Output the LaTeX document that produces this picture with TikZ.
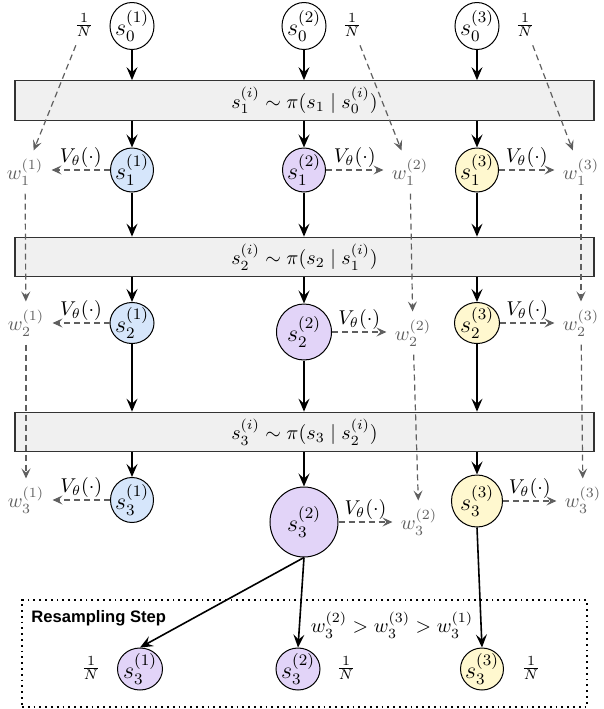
\documentclass[tikz,border=0pt]{standalone}
\usepackage{amsmath, amssymb}
\usepackage{fontspec}
\setsansfont{Liberation Sans}
\usepackage{tikz}
\usetikzlibrary{arrows.meta, positioning, shapes.geometric, calc}

\definecolor{pblue}{HTML}{D6E6FB}
\definecolor{ppurple}{HTML}{E2D4F8}
\definecolor{pyellow}{HTML}{FFF8CF}
\definecolor{boxgray}{HTML}{F0F0F0}
\definecolor{wgray}{HTML}{5F5F5F}

\begin{document}
\begin{tikzpicture}[
        x=0.5pt, y=-0.5pt,
        particle/.style={ellipse, draw=black, line width=0.5pt, inner sep=-3pt, font=\fontsize{12}{14}\selectfont},
        propbox/.style={rectangle, draw=black!80, line width=0.6pt, fill=boxgray, minimum width=289.5pt, minimum height=19.5pt},
        arrow/.style={-{Stealth[length=6.5pt, width=5.5pt, inset=2.5pt]}, line width=0.8pt},
        warrow/.style={-{Stealth[length=5pt, width=4.5pt, inset=2pt]}, dash pattern=on 3pt off 2pt, draw=wgray, line width=0.6pt},
        wlabel/.style={text=wgray, inner sep=4pt},
        nlabel/.style={inner sep=4pt},
        vlabel/.style={inner sep=1pt, above},
        group/.style={rectangle, draw, dotted, line width=0.9pt, minimum width=282.5pt, minimum height=53.5pt}
    ]
        \useasboundingbox (0,0) rectangle (604,709);

        % Initial particles
        \node[particle, minimum width=22pt, minimum height=23.5pt] (s0a) at (132,26) {$s_0^{(1)}$};
        \node[particle, minimum width=22pt, minimum height=23.5pt] (s0b) at (304,26) {$s_0^{(2)}$};
        \node[particle, minimum width=22pt, minimum height=23.5pt] (s0c) at (477,26) {$s_0^{(3)}$};
        \node[nlabel] (n0a) at (84,25) {$\frac{1}{N}$};
        \node[nlabel] (n0b) at (352,25) {$\frac{1}{N}$};
        \node[nlabel] (n0c) at (525,25) {$\frac{1}{N}$};

        % Proposal steps
        \node[propbox] (prop1) at (304.5,100.5) {$s_1^{(i)} \sim \pi(s_1 \mid s_0^{(i)})$};
        \node[propbox] (prop2) at (304.5,257) {$s_2^{(i)} \sim \pi(s_2 \mid s_1^{(i)})$};
        \node[propbox] (prop3) at (304.5,432) {$s_3^{(i)} \sim \pi(s_3 \mid s_2^{(i)})$};

        % Step 1
        \node[particle, fill=pblue, minimum width=21.5pt, minimum height=22pt] (s1a) at (132,170) {$s_1^{(1)}$};
        \node[particle, fill=ppurple, minimum width=21.5pt, minimum height=22pt] (s1b) at (304,170) {$s_1^{(2)}$};
        \node[particle, fill=pyellow, minimum width=21.5pt, minimum height=22pt] (s1c) at (477,170) {$s_1^{(3)}$};
        \node[wlabel] (w1a) at (25,172) {$w_1^{(1)}$};
        \node[wlabel] (w1b) at (410,172) {$w_1^{(2)}$};
        \node[wlabel] (w1c) at (581,172) {$w_1^{(3)}$};

        % Step 2
        \node[particle, fill=pblue, minimum width=22pt, minimum height=20.5pt] (s2a) at (132,323) {$s_2^{(1)}$};
        \node[particle, fill=ppurple, minimum width=27.5pt, minimum height=28pt] (s2b) at (304,332) {$s_2^{(2)}$};
        \node[particle, fill=pyellow, minimum width=22.5pt, minimum height=20.5pt] (s2c) at (477,323) {$s_2^{(3)}$};
        \node[wlabel] (w2a) at (26,323) {$w_2^{(1)}$};
        \node[wlabel] (w2b) at (413,333) {$w_2^{(2)}$};
        \node[wlabel] (w2c) at (581,323) {$w_2^{(3)}$};

        % Step 3
        \node[particle, fill=pblue, minimum width=21.5pt, minimum height=22.5pt] (s3a) at (132,500) {$s_3^{(1)}$};
        \node[particle, fill=ppurple, minimum width=34pt, minimum height=35pt] (s3b) at (304,522) {$s_3^{(2)}$};
        \node[particle, fill=pyellow, minimum width=25.5pt, minimum height=26pt] (s3c) at (477,501) {$s_3^{(3)}$};
        \node[wlabel] (w3a) at (26,500) {$w_3^{(1)}$};
        \node[wlabel] (w3b) at (419,522) {$w_3^{(2)}$};
        \node[wlabel] (w3c) at (583,500) {$w_3^{(3)}$};

        % Resampling
        \node[group] (resbox) at (304.5,653.5) {};
        \node[anchor=west, inner sep=0pt, font=\sffamily\bfseries\fontsize{8.3}{10}\selectfont] (restitle) at (31,618) {Resampling Step};
        \node (order) at (392,625) {$w_3^{(2)} > w_3^{(3)} > w_3^{(1)}$};
        \node[particle, fill=ppurple, minimum width=22.5pt, minimum height=21pt] (r1) at (140,669) {$s_3^{(1)}$};
        \node[particle, fill=ppurple, minimum width=22pt, minimum height=21pt] (r2) at (298,669) {$s_3^{(2)}$};
        \node[particle, fill=pyellow, minimum width=21.5pt, minimum height=21pt] (r3) at (482,669) {$s_3^{(3)}$};
        \node (rn1) at (91,668) {$\frac{1}{N}$};
        \node (rn2) at (346,668) {$\frac{1}{N}$};
        \node (rn3) at (531,668) {$\frac{1}{N}$};

        % Propagation
        \foreach \c in {a,b,c}{
            \draw[arrow] (s0\c) -- (s0\c |- prop1.north);
            \draw[arrow] (s0\c |- prop1.south) -- (s1\c);
            \draw[arrow] (s1\c) -- (s1\c |- prop2.north);
            \draw[arrow] (s1\c |- prop2.south) -- (s2\c);
            \draw[arrow] (s2\c) -- (s2\c |- prop3.north);
            \draw[arrow] (s2\c |- prop3.south) -- (s3\c);
        }
        \draw[arrow] (s3b.south) -- (r1.north);
        \draw[arrow] (s3b.south) -- (r2.north);
        \draw[arrow] (s3c.south) -- (r3.north);

        % Weights
        \foreach \c in {a,b,c}{
            \draw[warrow] (n0\c) -- (w1\c);
            \draw[warrow] (w1\c) -- (w2\c);
            \draw[warrow] (w2\c) -- (w3\c);
        }
        \draw[warrow] (s1a) -- (s1a -| w1a.east) node[vlabel, midway] {$V_\theta(\cdot)$};
        \draw[warrow] (s1b) -- (s1b -| w1b.west) node[vlabel, midway] {$V_\theta(\cdot)$};
        \draw[warrow] (s1c) -- (s1c -| w1c.west) node[vlabel, midway] {$V_\theta(\cdot)$};
        \draw[warrow] (s2a) -- (s2a -| w2a.east) node[vlabel, midway] {$V_\theta(\cdot)$};
        \draw[warrow] (s2b) -- (s2b -| w2b.west) node[vlabel, midway] {$V_\theta(\cdot)$};
        \draw[warrow] (s2c) -- (s2c -| w2c.west) node[vlabel, midway] {$V_\theta(\cdot)$};
        \draw[warrow] (s3a) -- (s3a -| w3a.east) node[vlabel, midway] {$V_\theta(\cdot)$};
        \draw[warrow] (s3b) -- (s3b -| w3b.west) node[vlabel, midway] {$V_\theta(\cdot)$};
        \draw[warrow] (s3c) -- (s3c -| w3c.west) node[vlabel, midway] {$V_\theta(\cdot)$};

    \end{tikzpicture}
\end{document}
